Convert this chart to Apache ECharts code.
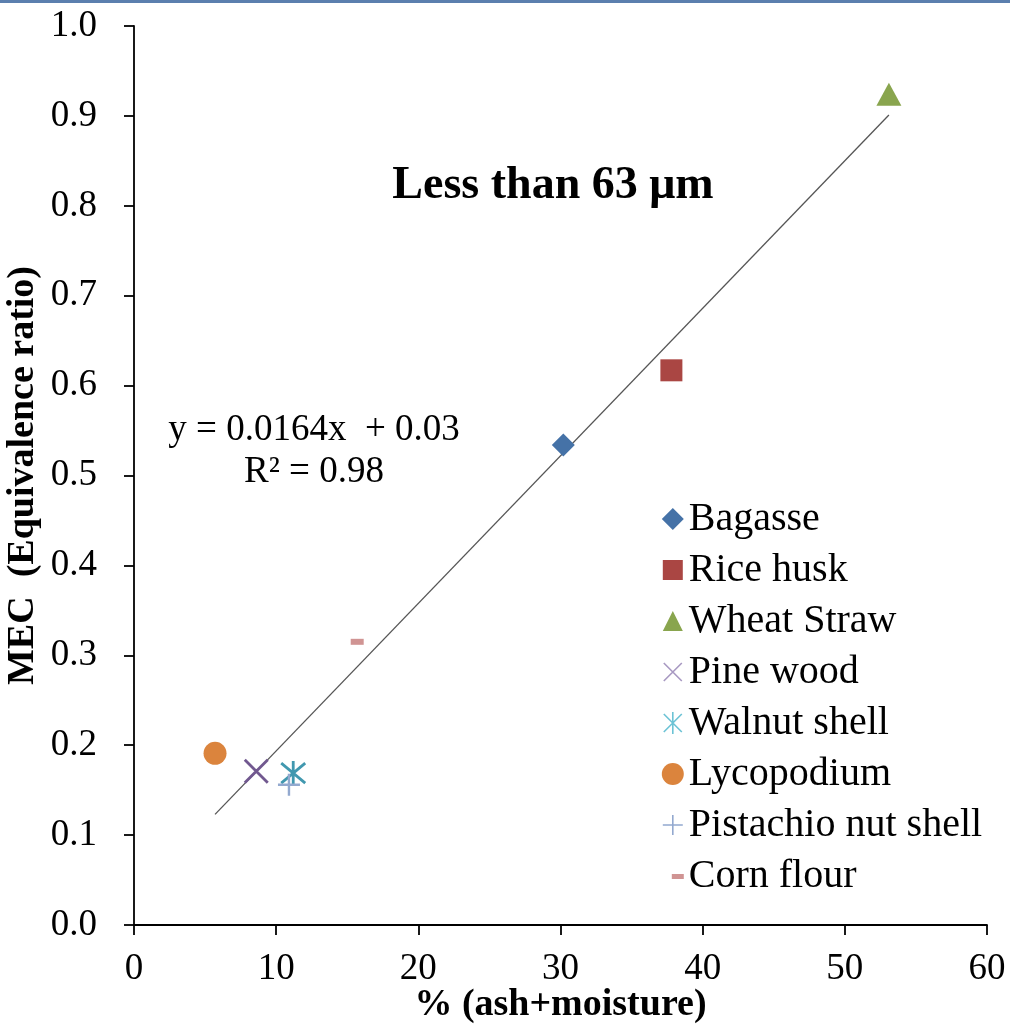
<!DOCTYPE html>
<html><head><meta charset="utf-8">
<script src="https://cdn.jsdelivr.net/npm/echarts@6/dist/echarts.min.js"></script>
<style>html,body{margin:0;padding:0;background:#fff}#c{width:1010px;height:1024px}</style>
</head><body><div id="c"></div>
<script>
const seriesNames = ['Bagasse','Rice husk','Wheat Straw','Pine wood','Walnut shell','Lycopodium','Pistachio nut shell','Corn flour'];
const xValues = [30.2, 37.8, 53.1, 8.6, 11.2, 5.7, 10.9, 15.7];
const yValues = [0.534, 0.617, 0.924, 0.171, 0.169, 0.191, 0.156, 0.315];
const trendX = [5.7, 53.1];
const trendY = [0.123, 0.901];
const xTicks = [0, 10, 20, 30, 40, 50, 60];
const yTicks = [0, 0.1, 0.2, 0.3, 0.4, 0.5, 0.6, 0.7, 0.8, 0.9, 1.0];
const colors = ['#4572a7','#aa4643','#89a54e','#71588f','#4198af','#db843d','#93a9cf','#d09493'];
const legendColors = ['#4572a7','#aa4643','#89a54e','#a899c2','#6cc3d5','#db843d','#93a9cf','#d09493'];

const FONT = '"Liberation Serif", "Times New Roman", serif';
const symbols = [
  {symbol:'diamond', size:23, fill:true},
  {symbol:'rect', size:22, fill:true},
  {symbol:'triangle', size:[25,23], fill:true},
  {symbol:'path://M0,0L10,10M10,0L0,10', size:23, fill:false, w:2.8},
  {symbol:'path://M0,0L10,10M10,0L0,10M5,-1L5,11', size:24, fill:false, w:2.8},
  {symbol:'circle', size:23, fill:true},
  {symbol:'path://M5,0L5,10M0,5L10,5', size:22, fill:false, w:2.4},
  {symbol:'rect', size:[13,6], fill:true}
];
const legendIcons = [
  'diamond',
  'path://M0,0M22,22M1,1L21,1L21,21L1,21Z',
  'path://M0,0M22,22M11,1L21,21L1,21Z',
  'path://M0,0M22,22M2,2L20,20M20,2L2,20',
  'path://M0,0M22,22M2,2L20,20M20,2L2,20M11,0L11,22',
  'circle',
  'path://M0,0M22,22M11,1L11,21M1,11L21,11',
  'path://M0,0M22,22M10,9L22,9L22,14L10,14Z'
];

const series = seriesNames.map((n,i)=>{
  const s = symbols[i];
  return {
    name:n, type:'scatter', symbol:s.symbol, symbolSize:s.size,
    data:[[xValues[i], yValues[i]]],
    itemStyle: s.fill ? {color:colors[i], opacity:1} : {color:'rgba(0,0,0,0)', borderColor:colors[i], borderWidth:s.w, opacity:1},
    z:3
  };
});
series.push({
  name:'trend', type:'line', data: trendX.map((x,i)=>[x, trendY[i]]),
  symbol:'none', lineStyle:{color:'#555', width:1.3}, silent:true, z:2
});

const chart = echarts.init(document.getElementById('c'), null, {renderer:'canvas'});
chart.setOption({
  animation:false,
  backgroundColor:'#fff',
  grid:{left:134, right:23, top:26, bottom:99, containLabel:false, outerBoundsMode:'none'},
  xAxis:{type:'value', min:0, max:60, interval:10,
    name:'% (ash+moisture)', nameLocation:'middle', nameGap:61, nameMoveOverlap:false,
    nameTextStyle:{fontFamily:FONT, fontWeight:'bold', fontSize:38, color:'#000'},
    axisLine:{onZero:false, lineStyle:{color:'#000', width:1.8}},
    axisTick:{show:true, inside:false, length:10, lineStyle:{color:'#000', width:1.8}},
    axisLabel:{fontFamily:FONT, fontSize:37, color:'#000', margin:26,
      formatter:v=> xTicks.includes(v) ? String(v) : ''},
    splitLine:{show:false}},
  yAxis:{type:'value', min:0, max:1, interval:0.1,
    name:'MEC  (Equivalence ratio)', nameLocation:'middle', nameGap:92, nameRotate:90, nameMoveOverlap:false,
    nameTextStyle:{fontFamily:FONT, fontWeight:'bold', fontSize:38, color:'#000'},
    axisLine:{onZero:false, lineStyle:{color:'#000', width:1.8}},
    axisTick:{show:true, inside:false, length:10, lineStyle:{color:'#000', width:1.8}},
    axisLabel:{fontFamily:FONT, fontSize:37, color:'#000', margin:37,
      formatter:v=>{ const t = yTicks.find(k=>Math.abs(k-v)<1e-6); return t===undefined ? '' : t.toFixed(1);} },
    splitLine:{show:false}},
  legend:{
    orient:'vertical', left:656, top:494, itemGap:11, itemWidth:22, itemHeight:22,
    data: seriesNames.map((n,i)=>{
      const s = symbols[i];
      return {name:n, icon:legendIcons[i],
        itemStyle: s.fill ? {color:legendColors[i]} : {color:'rgba(0,0,0,0)', borderColor:legendColors[i], borderWidth:1.6}};
    }),
    textStyle:{fontFamily:FONT, fontSize:40, lineHeight:40, color:'#000'},
    selectedMode:false
  },
  graphic:[
    {type:'rect', left:0, top:0, shape:{width:1010, height:3}, style:{fill:'#5b7fae'}},
    {type:'text', x:553, y:186, style:{text:'Less than 63 μm', font:'bold 46px '+FONT, fill:'#000', textAlign:'center', textVerticalAlign:'middle'}},
    {type:'text', x:314, y:430, style:{text:'y = 0.0164x  + 0.03', font:'37px '+FONT, fill:'#000', textAlign:'center', textVerticalAlign:'middle'}},
    {type:'text', x:314, y:472, style:{text:'R² = 0.98', font:'37px '+FONT, fill:'#000', textAlign:'center', textVerticalAlign:'middle'}}
  ],
  series: series
});
</script></body></html>
